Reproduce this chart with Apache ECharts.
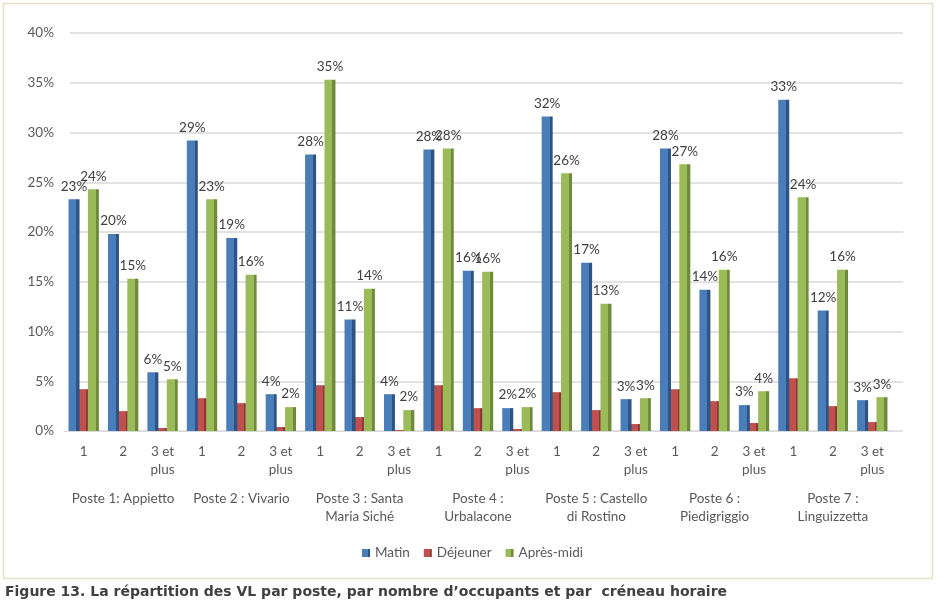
<!DOCTYPE html>
<html>
<head>
<meta charset="utf-8">
<script src="https://cdn.jsdelivr.net/npm/echarts@6/dist/echarts.min.js"></script>
<style>html,body{margin:0;padding:0;background:#fff;}#c{width:945px;height:605px;}</style>
</head>
<body>
<div id="c"></div>
<script>
const postes = ['Poste 1: Appietto','Poste 2 : Vivario','Poste 3 : Santa\nMaria Siché','Poste 4 :\nUrbalacone','Poste 5 : Castello\ndi Rostino','Poste 6 :\nPiedigriggio','Poste 7 :\nLinguizzetta'];
const occupants = ['1','2','3 et\nplus'];
const seriesNames = ['Matin','Déjeuner','Après-midi'];
const matin     = [23.3,19.8,5.9, 29.2,19.4,3.7, 27.8,11.2,3.7, 28.3,16.1,2.3, 31.6,16.9,3.2, 28.4,14.2,2.6, 33.3,12.1,3.1];
const dejeuner  = [4.2,2.0,0.3, 3.3,2.8,0.4, 4.6,1.4,0.1, 4.6,2.3,0.2, 3.9,2.1,0.7, 4.2,3.0,0.8, 5.3,2.5,0.9];
const apresMidi = [24.3,15.3,5.2, 23.3,15.7,2.4, 35.3,14.3,2.1, 28.4,16.0,2.4, 25.9,12.8,3.3, 26.8,16.2,4.0, 23.5,16.2,3.4];
const yTicks = [0,5,10,15,20,25,30,35,40];
const caption = 'Figure 13. La répartition des VL par poste, par nombre d\u2019occupants et par  créneau horaire';

const categories = [];
postes.forEach((p,i)=>occupants.forEach((o,j)=>categories.push(o)));

const FONT = 'Lato';
function grad(front, side){
  return new echarts.graphic.LinearGradient(0,0,1,0,[
    {offset:0,color:front},{offset:0.72,color:front},
    {offset:0.72,color:side},{offset:1,color:side}]);
}
const labelCfg = {
  show:true, position:'top', distance:6,
  formatter: p => Math.round(p.value) + '%',
  color:'#404040', fontFamily:FONT, fontSize:13.5
};
const chart = echarts.init(document.getElementById('c'));
chart.setOption({
  animation:false,
  textStyle:{fontFamily:FONT},
  grid:[
    {left:64, right:53, top:33, bottom:174},
    {left:70, right:42, top:33, bottom:174}
  ],
  legend:{
    data:seriesNames, top:541, left:'center',
    icon:'rect', itemWidth:8, itemHeight:8, itemGap:14,
    textStyle:{color:'#595959', fontSize:13.5, fontFamily:FONT}
  },
  xAxis:[
    {gridIndex:0, type:'category', data:categories,
     axisLine:{show:true, lineStyle:{color:'#d9d9d9'}}, axisTick:{show:false},
     axisLabel:{color:'#595959', fontSize:13.5, margin:12, lineHeight:18, interval:0, fontFamily:FONT}},
    {gridIndex:0, type:'category', data:postes, position:'bottom',
     axisLine:{show:false}, axisTick:{show:false}, splitLine:{show:false},
     axisLabel:{color:'#595959', fontSize:13.5, margin:59, lineHeight:18, interval:0, fontFamily:FONT}},
    {gridIndex:1, type:'value', min:0, max:1, show:false}
  ],
  yAxis:[
    {gridIndex:0, type:'value', min:yTicks[0], max:yTicks[yTicks.length-1], interval:5,
     axisLine:{show:false}, axisTick:{show:false}, splitLine:{show:false},
     axisLabel:{formatter:'{value}%', color:'#595959', fontSize:13.5, margin:10, fontFamily:FONT}},
    {gridIndex:1, type:'value', min:yTicks[0], max:yTicks[yTicks.length-1], interval:5,
     axisLine:{show:false}, axisTick:{show:false}, axisLabel:{show:false},
     splitLine:{show:true, lineStyle:{color:'#d9d9d9', width:1.5}}}
  ],
  series:[
    {name:seriesNames[0], type:'bar', xAxisIndex:0, yAxisIndex:0, data:matin,
     barWidth:11, barGap:'-12%', itemStyle:{color:grad('#4a7ebb','#2f5481')}, label:labelCfg, z:3},
    {name:seriesNames[1], type:'bar', xAxisIndex:0, yAxisIndex:0, data:dejeuner,
     barWidth:11, barGap:'-12%', itemStyle:{color:grad('#c0504d','#8c3836')}, z:2},
    {name:seriesNames[2], type:'bar', xAxisIndex:0, yAxisIndex:0, data:apresMidi,
     barWidth:11, barGap:'-12%', itemStyle:{color:grad('#9bbb59','#6f8a3c')}, label:labelCfg, z:3}
  ],
  graphic:[
    {type:'rect', shape:{x:3.5,y:3.5,width:929,height:575}, style:{fill:'none', stroke:'#e4e4c4', lineWidth:1.5}, silent:true, z:-1},
    {type:'text', left:5, top:585, style:{text:caption, font:'bold 14px "DejaVu Sans"', fill:'#404040'}}
  ]
});
</script>
</body>
</html>
